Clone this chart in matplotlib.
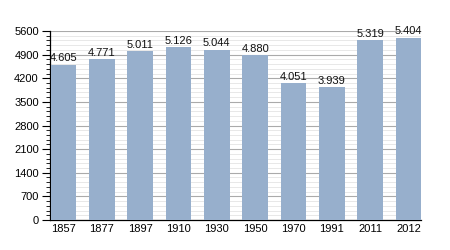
import matplotlib
matplotlib.use("Agg")
import matplotlib.pyplot as plt
from matplotlib.ticker import MultipleLocator

years = ["1857", "1877", "1897", "1910", "1930", "1950", "1970", "1991", "2011", "2012"]
population = [4605, 4771, 5011, 5126, 5044, 4880, 4051, 3939, 5319, 5404]
y_ticks = [0, 700, 1400, 2100, 2800, 3500, 4200, 4900, 5600]

plt.rcParams['font.family'] = ['Liberation Sans', 'DejaVu Sans']

fig = plt.figure(figsize=(4.5, 2.5), dpi=100)
ax = fig.add_axes([0.111, 0.12, 0.825, 0.756])

x = list(range(len(years)))
bars = ax.bar(x, population, width=0.67, color='#97afcc', zorder=3)

for xi, v in zip(x, population):
    label = f"{v:,}".replace(",", ".")
    ax.text(xi, v + 40, label, ha='center', va='bottom', fontsize=8, color='#111111', zorder=4)

ax.set_xlim(-0.35, 9.33)
ax.set_ylim(0, 5600)
ax.set_yticks(y_ticks)
ax.yaxis.set_minor_locator(MultipleLocator(140))
ax.set_xticks(x)
ax.set_xticklabels(years)

ax.grid(axis='y', which='major', color='#aaaaaa', linewidth=0.8, zorder=1)
ax.grid(axis='y', which='minor', color='#e4e4e4', linewidth=0.6, zorder=0)

for s in ['top', 'right']:
    ax.spines[s].set_visible(False)
ax.spines['left'].set_linewidth(0.9)
ax.spines['bottom'].set_linewidth(0.9)

ax.tick_params(axis='y', which='major', length=6, width=0.8, labelsize=8, pad=2)
ax.tick_params(axis='y', which='minor', length=3, width=0.6)
ax.tick_params(axis='x', which='both', length=0, labelsize=8, pad=3)

fig.savefig("out.png", dpi=100)
